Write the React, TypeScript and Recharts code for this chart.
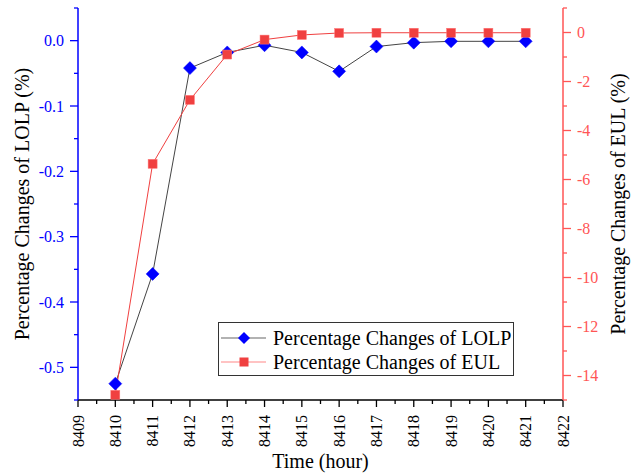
import React from "react";
import { ComposedChart, Line, XAxis, YAxis, Legend } from "recharts";

const hours = [8410, 8411, 8412, 8413, 8414, 8415, 8416, 8417, 8418, 8419, 8420, 8421];
const lolpChange = [-0.525, -0.357, -0.042, -0.018, -0.007, -0.018, -0.047, -0.009, -0.003, -0.001, -0.001, -0.001];
const eulChange = [-14.79, -5.36, -2.75, -0.9, -0.29, -0.1, -0.02, -0.01, -0.01, -0.01, -0.01, -0.01];

const xMajorTicks = [8409, 8410, 8411, 8412, 8413, 8414, 8415, 8416, 8417, 8418, 8419, 8420, 8421, 8422];
const xMinorTicks = [8409.5, 8410.5, 8411.5, 8412.5, 8413.5, 8414.5, 8415.5, 8416.5, 8417.5, 8418.5, 8419.5, 8420.5, 8421.5];
const leftMajorTicks = [-0.5, -0.4, -0.3, -0.2, -0.1, 0];
const leftMinorTicks = [-0.55, -0.45, -0.35, -0.25, -0.15, -0.05, 0.05];
const rightMajorTicks = [-14, -12, -10, -8, -6, -4, -2, 0];
const rightMinorTicks = [-15, -13, -11, -9, -7, -5, -3, -1, 1];

const lolpName = "Percentage Changes of LOLP";
const eulName = "Percentage Changes of EUL";

const data = hours.map((h, i) => ({ hour: h, lolp: lolpChange[i], eul: eulChange[i] }));

const FONT = '"Times New Roman", "Liberation Serif", Tinos, "DejaVu Serif", "Noto Serif", serif';
const BLUE = "#0000ff";
const RED = "#f04040";
const RED_AXIS = "#ff5555";

const isMajor = (v: number, majors: number[]) => majors.some((m) => Math.abs(m - v) < 1e-9);

const BottomTick = (props: any) => {
  const { x, y, payload } = props;
  const major = isMajor(payload.value, xMajorTicks);
  const ty = y + 15;
  return (
    <g>
      <line x1={x} x2={x} y1={y} y2={y + (major ? 7 : 4)} stroke="#000" strokeWidth={1.3} />
      {major && (
        <text
          x={x}
          y={ty}
          transform={`rotate(-90 ${x} ${ty})`}
          textAnchor="end"
          dominantBaseline="central"
          style={{ fontFamily: FONT }}
          fontSize={16}
          fill="#000"
        >
          {payload.value}
        </text>
      )}
    </g>
  );
};

const TopTick = (props: any) => {
  const { x, y, payload } = props;
  const major = isMajor(payload.value, xMajorTicks);
  return <line x1={x} x2={x} y1={y} y2={y + (major ? 7 : 3.5)} stroke="#000" strokeWidth={1.3} />;
};

const LeftTick = (props: any) => {
  const { x, y, payload } = props;
  const major = isMajor(payload.value, leftMajorTicks);
  return (
    <g>
      <line x1={x - (major ? 8 : 4)} x2={x} y1={y} y2={y} stroke={BLUE} strokeWidth={1.3} />
      {major && (
        <text x={x - 14} y={y} textAnchor="end" dominantBaseline="central" style={{ fontFamily: FONT }} fontSize={16} fill={BLUE}>
          {Number(payload.value).toFixed(1)}
        </text>
      )}
    </g>
  );
};

const RightTick = (props: any) => {
  const { x, y, payload } = props;
  const major = isMajor(payload.value, rightMajorTicks);
  return (
    <g>
      <line x1={x} x2={x + (major ? 8 : 4)} y1={y} y2={y} stroke={RED_AXIS} strokeWidth={1.3} />
      {major && (
        <text x={x + 14} y={y} textAnchor="start" dominantBaseline="central" style={{ fontFamily: FONT }} fontSize={16} fill={RED_AXIS}>
          {payload.value}
        </text>
      )}
    </g>
  );
};

const diamondDot = (props: any) => {
  const { cx, cy, index } = props;
  const r = 6.5;
  return (
    <path
      key={`d-${index}`}
      d={`M${cx},${cy - r} L${cx + r},${cy} L${cx},${cy + r} L${cx - r},${cy} Z`}
      fill={BLUE}
      stroke={BLUE}
      strokeWidth={0.5}
    />
  );
};

const squareDot = (props: any) => {
  const { cx, cy, index } = props;
  const s = 9;
  return <rect key={`s-${index}`} x={cx - s / 2} y={cy - s / 2} width={s} height={s} fill={RED} stroke="#f77" strokeWidth={0.5} />;
};

const LegendContent = () => {
  const row = (name: string, lineColor: string, marker: React.ReactNode) => (
    <div style={{ display: "flex", alignItems: "center", height: 24 }}>
      <svg width={50} height={24} style={{ display: "block" }}>
        <line x1={2} x2={47} y1={12} y2={12} stroke={lineColor} strokeWidth={1.2} />
        {marker}
      </svg>
      <span style={{ fontFamily: FONT, fontSize: 20, color: "#000", marginLeft: 4, lineHeight: "24px" }}>{name}</span>
    </div>
  );
  return (
    <div style={{ paddingTop: 3 }}>
      {row(lolpName, "#666", <path d="M25,6 L31,12 L25,18 L19,12 Z" fill={BLUE} />)}
      {row(eulName, "#f88", <rect x={20.5} y={7.5} width={9} height={9} fill={RED} />)}
    </div>
  );
};

const axisLabel = (text: string, dx: number) => (props: any) => {
  const vb = props.viewBox;
  const cx = vb.x + dx;
  const cy = vb.y + vb.height / 2;
  return (
    <text
      x={cx}
      y={cy}
      transform={`rotate(-90 ${cx} ${cy})`}
      textAnchor="middle"
      dominantBaseline="central"
      style={{ fontFamily: FONT }}
      fontSize={20}
      fill="#000"
    >
      {text}
    </text>
  );
};

const bottomLabel = (props: any) => {
  const vb = props.viewBox;
  return (
    <text x={vb.x + vb.width / 2} y={vb.y + 68} textAnchor="middle" style={{ fontFamily: FONT }} fontSize={20} fill="#000">
      Time (hour)
    </text>
  );
};

export default function App() {
  return (
    <div style={{ position: "absolute", left: 0, top: 0, width: 640, height: 476, background: "#fff", fontFamily: FONT }}>
      <ComposedChart width={640} height={476} data={data} margin={{ top: 8, right: 0, bottom: 0, left: 0 }}>
        <XAxis
          xAxisId="bottom"
          dataKey="hour"
          type="number"
          domain={[8409, 8422]}
          ticks={[...xMajorTicks, ...xMinorTicks]}
          interval={0}
          tickSize={0}
          tickMargin={0}
          tickLine={false}
          tick={<BottomTick />}
          axisLine={{ stroke: "#000", strokeWidth: 1.5 }}
          height={76}
          label={{ content: bottomLabel }}
        />
        <XAxis
          xAxisId="top"
          orientation="top"
          dataKey="hour"
          type="number"
          domain={[8409, 8422]}
          ticks={[...xMajorTicks, ...xMinorTicks]}
          interval={0}
          tickSize={0}
          tickMargin={0}
          tickLine={false}
          tick={<TopTick />}
          axisLine={{ stroke: "#000", strokeWidth: 1.5 }}
          height={0}
        />
        <YAxis
          yAxisId="left"
          orientation="left"
          type="number"
          domain={[-0.55, 0.05]}
          ticks={[...leftMajorTicks, ...leftMinorTicks]}
          interval={0}
          tickSize={0}
          tickMargin={0}
          tickLine={false}
          tick={<LeftTick />}
          axisLine={{ stroke: BLUE, strokeWidth: 1.5 }}
          width={78}
          label={{ content: axisLabel("Percentage Changes of LOLP (%)", 22) }}
        />
        <YAxis
          yAxisId="right"
          orientation="right"
          type="number"
          domain={[-15, 1]}
          ticks={[...rightMajorTicks, ...rightMinorTicks]}
          interval={0}
          tickSize={0}
          tickMargin={0}
          tickLine={false}
          tick={<RightTick />}
          axisLine={{ stroke: RED_AXIS, strokeWidth: 1.5 }}
          width={77}
          label={{ content: axisLabel("Percentage Changes of EUL (%)", 55) }}
        />
        <Line
          xAxisId="bottom"
          yAxisId="left"
          dataKey="lolp"
          name={lolpName}
          stroke="#444"
          strokeWidth={1}
          dot={diamondDot}
          activeDot={false}
          isAnimationActive={false}
        />
        <Line
          xAxisId="bottom"
          yAxisId="right"
          dataKey="eul"
          name={eulName}
          stroke={RED}
          strokeWidth={1}
          dot={squareDot}
          activeDot={false}
          isAnimationActive={false}
        />
        <Legend
          layout="vertical"
          align="center"
          verticalAlign="middle"
          content={<LegendContent />}
          wrapperStyle={{
            position: "absolute",
            left: 218,
            top: 322,
            width: 296,
            height: 54,
            border: "1px solid #333",
            boxSizing: "border-box",
            background: "#fff",
            paddingLeft: 0,
          }}
        />
      </ComposedChart>
    </div>
  );
}
